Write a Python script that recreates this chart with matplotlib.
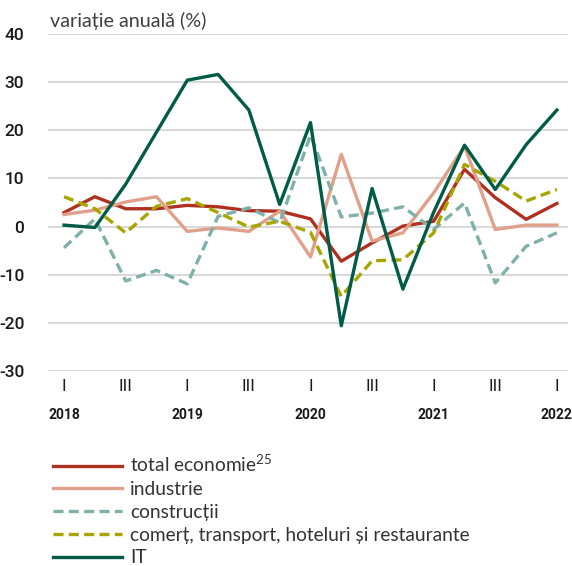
import matplotlib
matplotlib.use("Agg")
import matplotlib.pyplot as plt
import numpy as np

quarters = ["I", "II", "III", "IV"] * 4 + ["I"]
years = ["2018", "2019", "2020", "2021", "2022"]

total_economie = [2.9, 6.2, 3.7, 3.7, 4.4, 4.1, 3.3, 3.2, 1.6, -7.2, -3.4, 0.1, 1.1, 11.9, 6.0, 1.5, 4.8]
industrie = [2.5, 3.4, 5.1, 6.2, -1.0, -0.3, -1.0, 3.2, -6.3, 15.0, -3.0, -1.3, 7.0, 16.7, -0.6, 0.3, 0.3]
constructii = [-4.4, 1.6, -11.3, -9.1, -11.9, 2.1, 3.9, 0.8, 19.0, 2.0, 2.8, 4.1, -0.6, 4.9, -11.7, -4.1, -1.3]
comert = [6.2, 3.7, -1.3, 4.2, 5.8, 2.9, -0.1, 1.1, -1.2, -14.5, -7.1, -6.9, -1.3, 12.9, 9.4, 5.3, 7.7]
it = [0.3, -0.2, 8.8, 19.6, 30.4, 31.6, 24.2, 4.6, 21.6, -20.6, 7.9, -13.0, 3.0, 16.9, 7.7, 17.0, 24.2]

labels = [r"total economie$^{\mathregular{25}}$", "industrie", "construcții",
          "comerț, transport, hoteluri și restaurante", "IT"]

plt.rcParams["font.family"] = ["Lato", "DejaVu Sans"]
plt.rcParams["axes.unicode_minus"] = False
num_font = ["Roboto", "DejaVu Sans"]

fig = plt.figure(figsize=(5.72, 5.66), dpi=100)
ax = fig.add_axes([0.084, 0.3445, 0.909, 0.5955])

dash = (0, (3.0, 1.6))
x = np.arange(len(quarters))
ax.plot(x, total_economie, color="#b0301f", lw=2.4, label=labels[0])
ax.plot(x, industrie, color="#e0a08a", lw=2.4, label=labels[1])
ax.plot(x, constructii, color="#7fb1aa", lw=2.4, ls=dash, label=labels[2])
ax.plot(x, comert, color="#a7a500", lw=2.4, ls=dash, label=labels[3])
ax.plot(x, it, color="#005b47", lw=2.4, label=labels[4])

ax.set_ylim(-30, 40)
ax.set_xlim(-0.52, 16.36)
ax.set_yticks(range(-30, 41, 10))
ax.grid(axis="y", color="#d9d9d9", lw=1.5)
ax.set_axisbelow(True)
for s in ax.spines.values():
    s.set_visible(False)

tick_pos = [i for i, q in enumerate(quarters) if q in ("I", "III")]
ax.set_xticks(tick_pos)
ax.set_xticklabels([quarters[i] for i in tick_pos])
ax.tick_params(axis="both", length=0, labelsize=12.5, colors="#1a1a1a")
ax.tick_params(axis="x", pad=6)
ax.tick_params(axis="y", pad=17)
for t in ax.get_xticklabels():
    t.set_family(num_font)
for t in ax.get_yticklabels():
    t.set_family(num_font)
    t.set_fontweight("medium")

year_pos = [i for i, q in enumerate(quarters) if q == "I"]
for p, yr in zip(year_pos, years):
    ax.text(p, -0.13, yr, transform=ax.get_xaxis_transform(), ha="center", va="center",
            fontsize=10, fontweight="bold", family=num_font, color="#1a1a1a")

fig.text(0.088, 0.963, "variație anuală (%)", fontsize=14.2, color="#404040", va="center", ha="left")

leg = fig.legend(loc="upper left", bbox_to_anchor=(0.0927, 0.199), frameon=False,
                 fontsize=13.8, handlelength=3.6, handletextpad=0.42, labelspacing=0.3,
                 borderaxespad=0, borderpad=0)
for t in leg.get_texts():
    t.set_color("#333333")

fig.savefig("out.png", dpi=100)
